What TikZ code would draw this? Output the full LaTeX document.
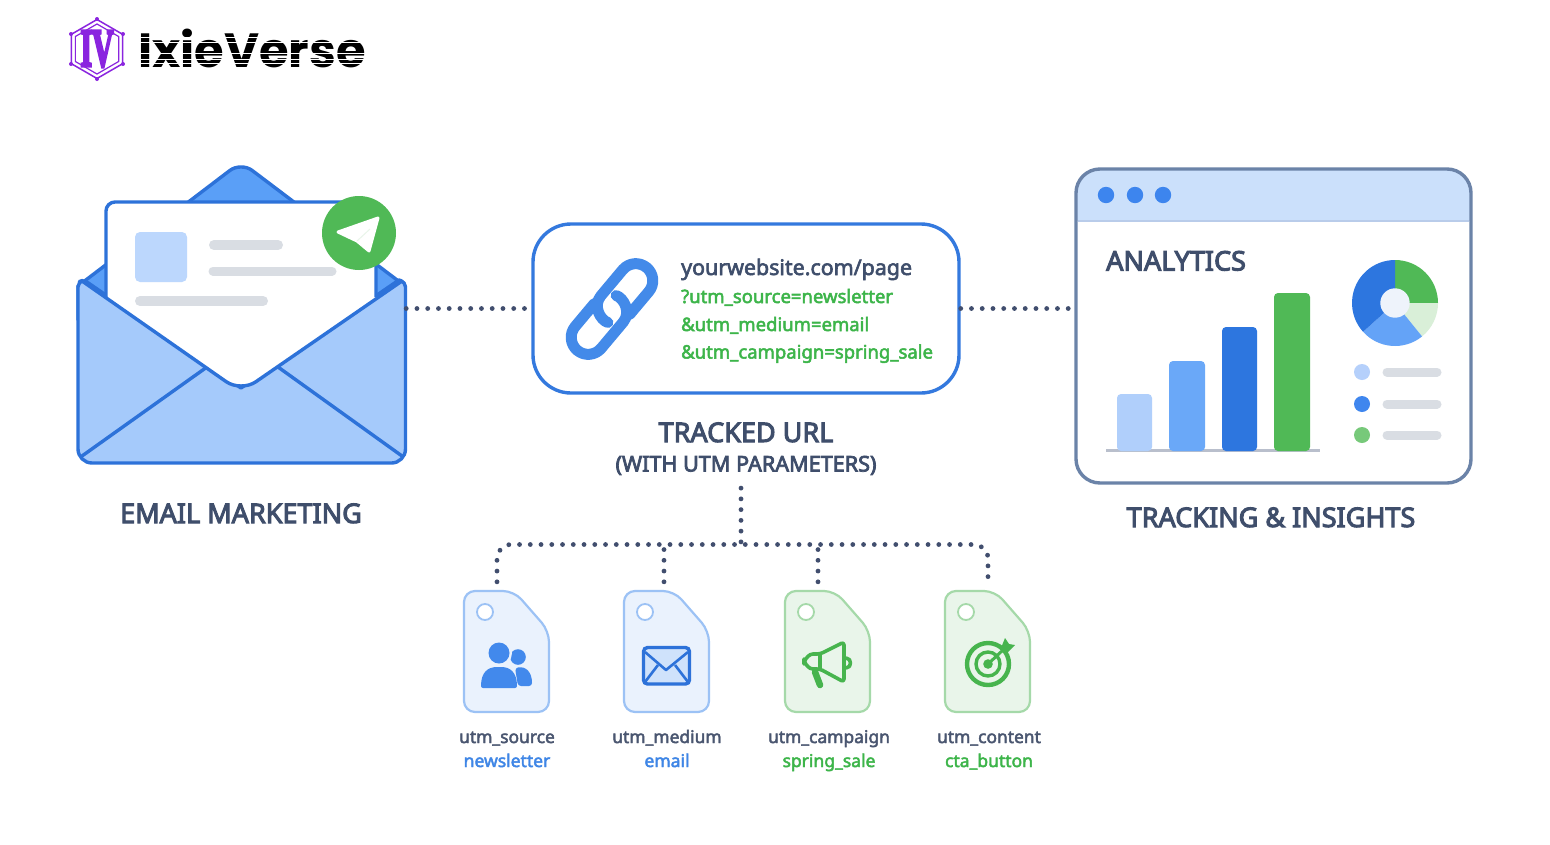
\documentclass[tikz,border=0pt]{standalone}
\usepackage{graphicx}
\usepackage{fontspec}
\setmainfont{Noto Sans}
\newfontfamily\logof{Poppins}[BoldFont=* Bold]
\newfontfamily\logos{Liberation Serif}[BoldFont=* Bold]
\usetikzlibrary{calc,shapes.geometric}
\definecolor{ink}{HTML}{3F4E6B}
\definecolor{tagink}{HTML}{4A5670}
\definecolor{dotc}{HTML}{414E6E}
\definecolor{blueL}{HTML}{2D72D9}
\definecolor{blueM}{HTML}{5A9FF7}
\definecolor{blueF}{HTML}{A5CAFB}
\definecolor{blueP}{HTML}{BCD7FD}
\definecolor{blueT}{HTML}{3F86E6}
\definecolor{grnA}{HTML}{50B956}
\definecolor{grnT}{HTML}{3DB54A}
\definecolor{grayb}{HTML}{D9DDE3}
\definecolor{purp}{HTML}{8A24DF}
\definecolor{tagBf}{HTML}{EAF2FD}
\definecolor{tagBs}{HTML}{9CC2F5}
\definecolor{tagGf}{HTML}{E9F5EA}
\definecolor{tagGs}{HTML}{A5D9A9}
\definecolor{cHead}{HTML}{CBE0FB}
\definecolor{cFrame}{HTML}{6B83A8}
\definecolor{cHeadLine}{HTML}{B9CCEA}
\definecolor{cDot}{HTML}{3D85EE}
\definecolor{cBase}{HTML}{B9BFCC}
\definecolor{cB1}{HTML}{B0CFFB}
\definecolor{cB2}{HTML}{6AA8F8}
\definecolor{cB3}{HTML}{2D76DF}
\definecolor{cPie1}{HTML}{D9EFD8}
\definecolor{cPie2}{HTML}{64A3F7}
\definecolor{cHole}{HTML}{EEF3FB}
\definecolor{cLeg1}{HTML}{B5D0FB}
\definecolor{cLeg2}{HTML}{3F86EE}
\definecolor{cLeg3}{HTML}{77C97A}
\definecolor{cUser}{HTML}{4289EC}
\definecolor{cMail}{HTML}{CFE2FB}
\definecolor{cIcon}{HTML}{47B44E}
\tikzset{
  heavy/.style={execute at begin node={\special{pdf:code 2 Tr #1 w}},execute at end node={\special{pdf:code 0 Tr 1 w}}},
  dotted line/.style={draw=dotc,line width=4.8pt,line cap=round,dash pattern=on 0pt off 10.75pt},
  grayline/.style={draw=grayb,line cap=round},
  bigcap/.style={font=\fontsize{27}{30}\selectfont,text=ink,inner sep=0pt,anchor=base,heavy=1.0},
  subcap/.style={font=\fontsize{21.6}{25}\selectfont,text=ink,inner sep=0pt,anchor=base,heavy=0.75},
  tagname/.style={font=\fontsize{17.4}{20}\selectfont,text=tagink,inner sep=0pt,anchor=base,heavy=0.45},
  tagblue/.style={font=\fontsize{17.5}{20}\selectfont,text=blueT,inner sep=0pt,anchor=base,heavy=0.45},
  taggreen/.style={font=\fontsize{17.5}{20}\selectfont,text=grnT,inner sep=0pt,anchor=base,heavy=0.45},
  urlgreen/.style={font=\fontsize{18.5}{22}\selectfont,text=grnT,anchor=base west,inner sep=0pt,heavy=0.5},
  box/.style={inner sep=0pt,minimum width=#1},
  pics/tagcard/.style 2 args={code={
    \draw[fill=#1,draw=#2,line width=2.2pt,rounded corners=11pt]
      (0,0) -- (50,0) -- (85,40) -- (85,121) -- (0,121) -- cycle;
    \draw[fill=white,draw=#2,line width=1.8pt] (21,21) circle[radius=8];
  }}
}
\begin{document}
\begin{tikzpicture}[x=1pt,y=-1pt]
\useasboundingbox (0,0) rectangle (1550,844);
\fill[white] (0,0) rectangle (1550,844);

%% logo
\begin{scope}[shift={(97,49)},y=1pt,purp]
  \draw[line width=1.5pt,line join=round] (90:29.5)--(150:29.5)--(210:29.5)--(270:29.5)--(330:29.5)--(30:29.5)--cycle;
  \draw[line width=1.2pt,line join=round] (90:25)--(150:25)--(210:25)--(270:25)--(330:25)--(30:25)--cycle;
  \foreach \a in {90,150,210,270,330,30}{\fill (\a:30) circle[radius=2];}
\end{scope}
\node[text=purp,inner sep=0pt,heavy=0.6] (logoiv) at (97,49) {\resizebox{33pt}{35pt}{\logos\bfseries IV}};
\node[font=\fontsize{48}{48}\selectfont\logof\bfseries,text=black,inner sep=0pt,anchor=base west] (logotext) at (138,67) {IxieVerse};
\foreach \yy in {37.5,42,53.5,59,63}{\draw[white,line width=1pt] (137,\yy) -- (366,\yy);}

%% email
\node[box=329pt,minimum height=295pt] (email) at (241.5,315.5) {};
\draw[fill=blueM,draw=blueL,line width=3.4pt,line join=round]
  (78,286) [rounded corners=14pt] -- (241,162) [sharp corners] -- (405,286) -- (405,320) -- (78,320) -- cycle;
\draw[fill=blueF,draw=blueL,line width=3.4pt,line join=round]
  (78,300) [rounded corners=5pt] -- (78,282) -- (84,280) [sharp corners] -- (241,388) -- (399,280) [rounded corners=5pt] -- (405.5,282) -- (405.5,300) [rounded corners=14pt] -- (405.5,463) -- (78,463) -- cycle;
\draw[draw=blueL,line width=3.4pt,line cap=round] (82,456) -- (207,367) (278,367) -- (402,456);
\fill[white] (106,298) [rounded corners=9pt] -- (106,202) -- (376,202) [sharp corners] -- (376,298) [rounded corners=18pt] -- (241,392) [sharp corners] -- cycle;
\draw[draw=blueL,line width=3.4pt,rounded corners=9pt]
  (106,297) -- (106,202) -- (376,202) -- (376,297);
\draw[draw=blueL,line width=3.4pt,line cap=round]
  (82,281) [rounded corners=18pt] -- (241,392) -- (402,281);
\fill[blueP,rounded corners=5pt] (135,232) rectangle (187,282);
\draw[grayline,line width=10pt] (214,245) -- (278,245);
\draw[grayline,line width=9pt] (213,271) -- (332,271);
\draw[grayline,line width=10pt] (140,301) -- (263,301);
\fill[grnA] (359,233) circle[radius=37];
\fill[white,draw=white,line width=3pt,line join=round] (378,218) -- (338,232) -- (357,241) -- (369,251) -- cycle;
\draw[tagGf,line width=1pt] (357,241) -- (370,229);
\node[bigcap] (emaillabel) at (241,523) {EMAIL MARKETING};

%% url box
\node[draw=blueL!85!blueM,line width=3.4pt,fill=white,rounded corners=38pt,minimum width=426pt,minimum height=169pt,inner sep=0pt] (url) at (746,308.5) {};
\begin{scope}[shift={(612,309)},rotate=50,y=1pt,line width=11pt,line cap=round,line join=round]
  \draw[blueT!85!blueM] (7,-17) -- (37,-17) arc[start angle=-90,end angle=90,radius=17] -- (3,17) .. controls (-10,17) and (-16,2) .. (-13,-5.5);
  \draw[blueT!85!blueM] (-7,17) -- (-37,17) arc[start angle=90,end angle=270,radius=17] -- (-3,-17) .. controls (10,-17) and (16,-2) .. (13,5.5);
\end{scope}
\node[font=\fontsize{21.4}{25}\selectfont,text=ink,anchor=base west,inner sep=0pt,heavy=0.6] (urlbase) at (681,275) {yourwebsite.com/page};
\node[urlgreen] (urlsrc) at (681,303) {?utm\_source=newsletter};
\node[urlgreen] (urlmed) at (681,331) {\&utm\_medium=email};
\node[urlgreen] (urlcmp) at (681,358.5) {\&utm\_campaign=spring\_sale};
\node[bigcap] (urllabel) at (746,442) {TRACKED URL};
\node[subcap] (urlsub) at (746,471.5) {(WITH UTM PARAMETERS)};

%% analytics window
\node[box=395pt,minimum height=314pt] (analytics) at (1273.5,326) {};
\fill[white,rounded corners=24pt] (1076,169) rectangle (1471,483);
\begin{scope}
  \clip[rounded corners=24pt] (1076,169) rectangle (1471,483);
  \fill[cHead] (1076,169) rectangle (1471,221);
\end{scope}
\draw[draw=cFrame,line width=3.4pt,rounded corners=24pt] (1076,169) rectangle (1471,483);
\draw[cHeadLine,line width=1.2pt] (1078,221) -- (1469,221);
\foreach \xx in {1106,1135,1163}{\fill[cDot] (\xx,195) circle[radius=8.2];}
\node[font=\fontsize{27}{30}\selectfont,text=ink,anchor=base west,inner sep=0pt,heavy=1.0] (analyticstitle) at (1106,270.5) {ANALYTICS};
\draw[draw=cBase,line width=3pt] (1106,450.5) -- (1320,450.5);
\fill[cB1,rounded corners=4pt] (1117,394) rectangle (1152,451);
\fill[cB2,rounded corners=4pt] (1169,361) rectangle (1205,451);
\fill[cB3,rounded corners=4pt] (1222,327) rectangle (1257,451);
\fill[grnA,rounded corners=4pt] (1274,293) rectangle (1310,451);
\begin{scope}[shift={(1395,303)},y=1pt]
  \fill[grnA] (0,0) -- (90:43) arc[start angle=90,end angle=0,radius=43] -- cycle;
  \fill[cPie1] (0,0) -- (0:43) arc[start angle=0,end angle=-51,radius=43] -- cycle;
  \fill[cPie2] (0,0) -- (-51:43) arc[start angle=-51,end angle=-138,radius=43] -- cycle;
  \fill[cB3] (0,0) -- (-138:43) arc[start angle=-138,end angle=-270,radius=43] -- cycle;
  \fill[cHole] (0,0) circle[radius=14.7];
\end{scope}
\fill[cLeg1] (1362,372) circle[radius=8];
\fill[cLeg2] (1362,404) circle[radius=8];
\fill[cLeg3] (1362,435) circle[radius=8];
\foreach \yy in {372,404,435}{\draw[grayline,line width=9pt] (1387,\yy) -- (1437,\yy);}
\node[bigcap] (insightslabel) at (1271,527) {TRACKING \& INSIGHTS};

%% tags
\pic at (464,591) {tagcard={tagBf}{tagBs}};
\pic at (624,591) {tagcard={tagBf}{tagBs}};
\pic at (785,591) {tagcard={tagGf}{tagGs}};
\pic at (945,591) {tagcard={tagGf}{tagGs}};
\node[box=85pt,minimum height=121pt] (tag1) at (506.5,651.5) {};
\node[box=85pt,minimum height=121pt] (tag2) at (666.5,651.5) {};
\node[box=85pt,minimum height=121pt] (tag3) at (827.5,651.5) {};
\node[box=85pt,minimum height=121pt] (tag4) at (987.5,651.5) {};

%% users icon
\fill[cUser] (518,657) circle[radius=7.8];
\fill[cUser,rounded corners=3pt] (515,668) .. controls (526,666) and (532,672) .. (532,686) -- (518,686) -- cycle;
\draw[tagBf,line width=2pt] (499,653) circle[radius=12];
\fill[cUser] (499,653) circle[radius=10.5];
\fill[cUser,rounded corners=2pt] (481,688) .. controls (481,672) and (488,667) .. (499,667) .. controls (510,667) and (517,672) .. (517,688) -- cycle;

%% mail icon
\draw[fill=cMail,draw=blueL,line width=3.4pt,rounded corners=4pt] (643.5,647.5) rectangle (689.5,684);
\draw[blueL,line width=2.6pt,line join=round] (645,652) -- (666,670) -- (688,652);
\draw[blueL,line width=2.6pt] (645,682) -- (658,665) (688,682) -- (675,665);

%% megaphone icon
\begin{scope}[draw=cIcon,line width=3.6pt,line join=round,line cap=round]
\draw[rounded corners=3pt] (820,654) -- (844,642) -- (844,682) -- (820,669) -- (810,669) -- (804,662) -- (804,661) -- (810,654) -- cycle;
\draw (820,654) -- (820,669);
\draw (846,658) .. controls (852,658) and (852,668) .. (846,668);
\draw[line width=6.5pt] (815,672) -- (820,685);
\end{scope}

%% target icon
\begin{scope}[draw=cIcon,line cap=round]
\draw[line width=4.4pt] (988,664) circle[radius=21];
\draw[line width=3.4pt] (988,664) circle[radius=12];
\fill[cIcon] (988,664) circle[radius=4.8];
\draw[line width=3pt] (988,664) -- (1003,650);
\fill[cIcon] (1001,648) -- (1005,638) -- (1009,644) -- (1015,645) -- (1006,654) -- cycle;
\end{scope}

\node[tagname] (n1) at (507,743) {utm\_source};
\node[tagblue] (v1) at (507,767) {newsletter};
\node[tagname] (n2) at (667,743) {utm\_medium};
\node[tagblue] (v2) at (667,767) {email};
\node[tagname] (n3) at (829,743) {utm\_campaign};
\node[taggreen] (v3) at (829,767) {spring\_sale};
\node[tagname] (n4) at (989,743) {utm\_content};
\node[taggreen] (v4) at (989,767) {cta\_button};

%% connectors
\coordinate (hub) at (741,544.5);
\coordinate (pin1) at ($(tag1.north)+(-9.5,-9)$);
\coordinate (pin2) at ($(tag2.north)+(-2.5,-9)$);
\coordinate (pin3) at ($(tag3.north)+(-9.5,-9)$);
\coordinate (pin4) at ($(tag4.north)+(0.5,-9)$);
\draw[dotted line] (email.east |- url.west) -- (url.west);
\draw[dotted line] (url.east) -- (analytics.west |- url.east);
\draw[dotted line] ($(urlsub.south -| hub)+(0,13)$) -- (hub);
\draw[dotted line,rounded corners=14pt] (pin1) |- (hub) -| (pin4);
\draw[dotted line] (pin2) -- (pin2 |- hub);
\draw[dotted line] (pin3) -- (pin3 |- hub);
\end{tikzpicture}
\end{document}
